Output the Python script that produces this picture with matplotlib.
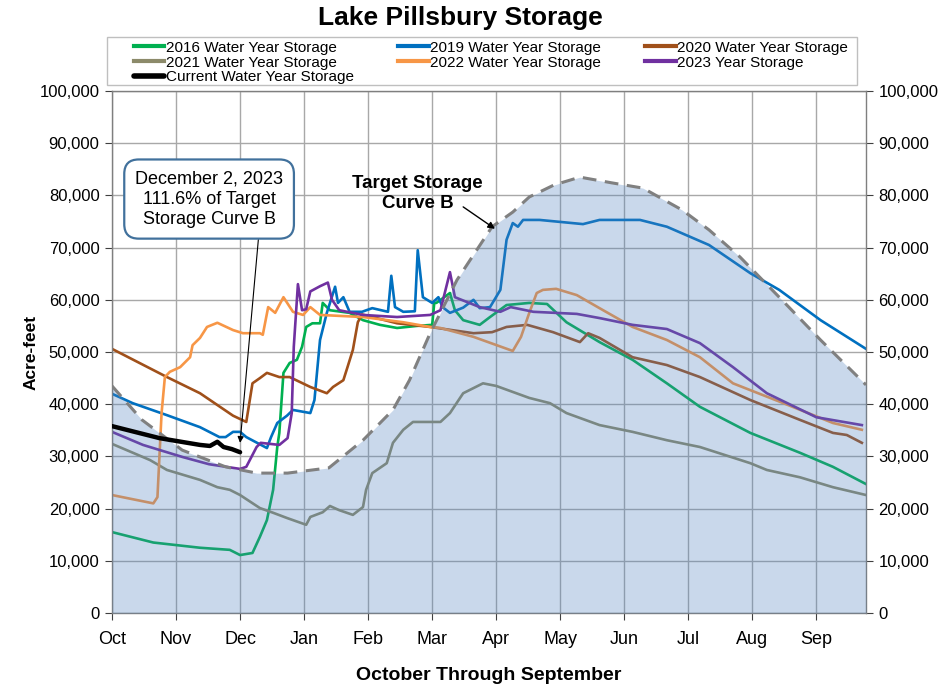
import matplotlib
matplotlib.use("Agg")
import matplotlib.pyplot as plt
from matplotlib.ticker import FuncFormatter
from matplotlib.patches import Rectangle

# ---------------- data (day of water year from Oct 1, acre-feet) ----------------
month_labels = ["Oct", "Nov", "Dec", "Jan", "Feb", "Mar", "Apr", "May", "Jun", "Jul", "Aug", "Sep"]
month_ticks = [0, 31, 62, 93, 124, 155, 186, 217, 248, 279, 310, 341]

target_day = [0, 14.5, 34, 55, 70, 85, 105, 121.5, 136, 144, 154, 167, 184, 194, 202, 214,
              226.5, 242, 257, 276, 289, 304, 323, 343, 365]
target_af = [43500, 37000, 31200, 28000, 26800, 26800, 27800, 33100, 38900, 44600, 53600, 63800,
             74000, 76800, 79700, 82000, 83500, 82400, 81400, 77200, 73400, 68200, 60500, 52300, 43700]

wy2016_day = [0, 20, 42.6, 57, 62, 68, 71.6, 75, 78, 80, 81, 83, 86, 89.5, 92, 94, 97, 100.7, 102,
              105.5, 115, 121.5, 129.7, 138, 147.6, 155, 156, 157, 163.6, 166, 170, 178, 183, 191,
              202, 210.6, 220, 236, 252, 268.6, 284.6, 309, 333, 349, 365]
wy2016_af = [15500, 13500, 12500, 12100, 11100, 11500, 14600, 17800, 23600, 31800, 34500, 46000,
             47900, 48500, 51000, 54800, 55500, 55500, 59400, 58000, 57500, 56100, 55200, 54600,
             55000, 55200, 59400, 59400, 61300, 58000, 56100, 55200, 56700, 59000, 59400, 59200,
             55700, 51900, 48500, 44000, 39500, 34500, 30700, 28000, 24700]

wy2019_day = [0, 10, 26.6, 42.6, 52, 55, 58.6, 62, 65, 75, 77, 80, 84.7, 87.6, 96, 98, 100.7, 104,
              108, 109.4, 112, 115, 121, 126, 133.6, 135.2, 137, 141, 146.6, 148, 150.5, 155, 158,
              160, 163.6, 170, 175, 178, 183, 188, 191, 194, 196.5, 199, 207, 228, 236, 255.6,
              268.6, 289, 309, 323, 343, 365]
wy2019_af = [42000, 40200, 37900, 35600, 33700, 33700, 34700, 34700, 33700, 31600, 33700, 36400,
             37800, 38900, 38300, 40800, 52300, 57500, 62500, 59400, 60500, 57700, 57700, 58400,
             57700, 64600, 58600, 57700, 57800, 69500, 60500, 59400, 60500, 58600, 57500, 58500,
             60000, 58400, 58600, 61900, 71500, 74700, 74000, 75300, 75300, 74500, 75300, 75300,
             74000, 70500, 65100, 61900, 56100, 50600]

wy2020_day = [0, 26.6, 42.6, 58.6, 65, 68, 71.6, 75, 81, 86, 96, 104, 107, 112, 114, 116.6, 119,
              121, 138, 154, 175, 184, 191, 201, 213.5, 226.5, 230.5, 236, 252, 268.6, 284.6, 309,
              333, 349, 355.7, 363]
wy2020_af = [50600, 45200, 42100, 37800, 36600, 44000, 45000, 46000, 45200, 45200, 43300, 42100,
             43300, 44600, 47100, 50400, 55700, 57200, 55500, 54800, 53600, 53800, 54800, 55200,
             53800, 51900, 53600, 52700, 49000, 47500, 45200, 40800, 37000, 34500, 34100, 32600]

wy2021_day = [0, 18.4, 26.6, 42.6, 51, 57, 62, 71.6, 78, 84.7, 94, 96, 102, 105.5, 110, 116.6,
              121.5, 123, 126, 133, 136, 141, 145.7, 159, 163.6, 170, 179.6, 186, 202, 212, 220,
              236, 252, 268.6, 284.6, 309, 317, 333, 349, 365]
wy2021_af = [32400, 29300, 27400, 25500, 24100, 23600, 22600, 20100, 19200, 18200, 16900, 18400,
             19300, 20500, 19700, 18800, 20300, 23600, 26800, 28700, 32600, 35100, 36600, 36600,
             38300, 42100, 44000, 43500, 41200, 40200, 38300, 36000, 34700, 33100, 31800, 28700,
             27400, 26000, 24100, 22600]

wy2022_day = [0, 20, 22, 24, 25.6, 28, 33, 37.8, 39, 42.6, 46, 51, 58.6, 63.4, 71.6, 73, 75.6, 79,
              83, 87.6, 92.5, 96, 100.7, 121.5, 141, 154, 159, 175, 194, 198, 202, 205.6, 208.6,
              215, 225, 236, 252, 268.6, 284.6, 300.6, 325, 349, 363]
wy2022_af = [22600, 21000, 22200, 38300, 45200, 46200, 47100, 49000, 51300, 52700, 54800, 55600,
             54200, 53600, 53600, 53300, 58600, 57500, 60500, 57700, 57100, 58600, 57100, 56700,
             55700, 54800, 54600, 52900, 50200, 52900, 57500, 61300, 61900, 62100, 60900, 58400,
             54800, 52300, 49000, 44000, 40200, 36400, 35100]

wy2023_day = [0, 15, 34, 47, 62, 65, 70, 72, 81, 85, 87, 88, 90, 92, 94, 96, 100.7, 104.5, 106.5,
              110, 121.5, 138, 154, 159, 163.6, 166, 178, 188, 193, 204, 225, 236, 252, 268.6,
              284.6, 300.6, 317, 341, 363]
wy2023_af = [34700, 32200, 29900, 28500, 27600, 28000, 31800, 32600, 32200, 33500, 38300, 51000,
             63000, 58000, 58200, 61600, 62600, 63300, 60000, 58000, 57100, 56700, 57100, 58000,
             65300, 60500, 58600, 57700, 58600, 57700, 57300, 56500, 55200, 54400, 51700, 47100,
             42100, 37500, 36000]

current_day = [0, 10, 23, 35, 42.6, 47.4, 51, 54, 58, 62]
current_af = [35800, 34800, 33500, 32700, 32200, 32000, 32800, 31800, 31400, 30800]

# ---------------- figure ----------------
W, H = 943, 688
fig = plt.figure(figsize=(W / 100, H / 100), dpi=100)
ax = fig.add_axes([112 / W, 75 / H, 754 / W, 522 / H])

arial = ["Liberation Sans", "DejaVu Sans"]

lw = 1.9
l16, = ax.plot(wy2016_day, wy2016_af, color="#00B050", lw=lw, zorder=2, label="2016 Water Year Storage")
l19, = ax.plot(wy2019_day, wy2019_af, color="#0070C0", lw=lw, zorder=2, label="2019 Water Year Storage")
l20, = ax.plot(wy2020_day, wy2020_af, color="#A0501A", lw=lw, zorder=2, label="2020 Water Year Storage")
l21, = ax.plot(wy2021_day, wy2021_af, color="#8C8A6A", lw=lw, zorder=2, label="2021 Water Year Storage")
l22, = ax.plot(wy2022_day, wy2022_af, color="#F79646", lw=lw, zorder=2, label="2022 Water Year Storage")
l23, = ax.plot(wy2023_day, wy2023_af, color="#7030A0", lw=lw, zorder=2, label="2023 Year Storage")

ax.fill_between(target_day, 0, target_af, color="#4F81BD", alpha=0.3, lw=0, zorder=3)
ax.plot(target_day, target_af, color="#808080", lw=2.2, dashes=(4.5, 2.8), zorder=4)

lcur, = ax.plot(current_day, current_af, color="black", lw=3.2, zorder=5,
                solid_capstyle="round", label="Current Water Year Storage")

ax.set_xlim(0, 365)
ax.set_ylim(0, 100000)
ax.set_xticks(month_ticks)
ax.set_xticklabels(month_labels, family=arial, fontsize=13)
ax.set_yticks(range(0, 100001, 10000))
ax.yaxis.set_major_formatter(FuncFormatter(lambda v, p: f"{int(v):,}"))
ax.tick_params(axis="y", labelsize=12, colors="#404040", labelcolor="black", length=5,
               right=True, labelright=True, pad=4)
ax.tick_params(axis="x", colors="#404040", labelcolor="black", length=5, pad=8)
for lab in ax.get_yticklabels(which="both"):
    lab.set_family(arial)

ax.grid(True, color="#A8A8A8", lw=1.0)
ax.set_axisbelow(True)
for s in ax.spines.values():
    s.set_color("#7F7F7F")
    s.set_linewidth(1.0)

ax.set_ylabel("Acre-feet", family=arial, fontsize=12.5, fontweight="bold", labelpad=1)
ax.set_xlabel("October Through September", family=arial, fontsize=14, fontweight="bold", labelpad=14)

fig.text(460 / W, 1 - 18 / H, "Lake Pillsbury Storage", ha="center", va="center",
         family=arial, fontsize=19, fontweight="bold")

# legend frame drawn separately, entries laid out inside it
fig.patches.append(Rectangle((107 / W, 1 - 85 / H), 750 / W, 48 / H, transform=fig.transFigure,
                             fill=True, facecolor="white", edgecolor="#BFBFBF", lw=1.0, zorder=0))
handles = [l16, l21, lcur, l19, l22, l20, l23]
leg = fig.legend(handles=handles, labels=[h.get_label() for h in handles], ncol=3,
                 loc="upper left", bbox_to_anchor=(130 / W, 1 - 85 / H, 722 / W, 48 / H),
                 mode="expand", frameon=False,
                 prop={"family": arial, "size": 11}, handlelength=2.0, handletextpad=0.1,
                 labelspacing=0.05, borderpad=0.25, borderaxespad=0)
for h in leg.legend_handles:
    h.set_linewidth(4.0 if h.get_color() == "black" else 3.0)

# annotation box
ax.annotate("December 2, 2023\n111.6% of Target\nStorage Curve B",
            xy=(62, 32600), xytext=(47, 79300), textcoords="data",
            ha="center", va="center", family=arial, fontsize=13, linespacing=1.25,
            bbox=dict(boxstyle="round,pad=0.6,rounding_size=0.8", fc="white", ec="#41719C", lw=1.6),
            arrowprops=dict(arrowstyle="-|>", color="black", lw=0.8, mutation_scale=9,
                            relpos=(0.84, 0.0), shrinkA=0, shrinkB=0),
            zorder=6)

ax.text(148, 80400, "Target Storage\nCurve B", ha="center", va="center", family=arial,
        fontsize=13.5, fontweight="bold", linespacing=1.2, zorder=6)
ax.annotate("", xy=(185.4, 73600), xytext=(170, 77800),
            arrowprops=dict(arrowstyle="-|>", color="black", lw=1.0, mutation_scale=10,
                            shrinkA=0, shrinkB=0), zorder=6)

fig.savefig("out.png", dpi=100)
